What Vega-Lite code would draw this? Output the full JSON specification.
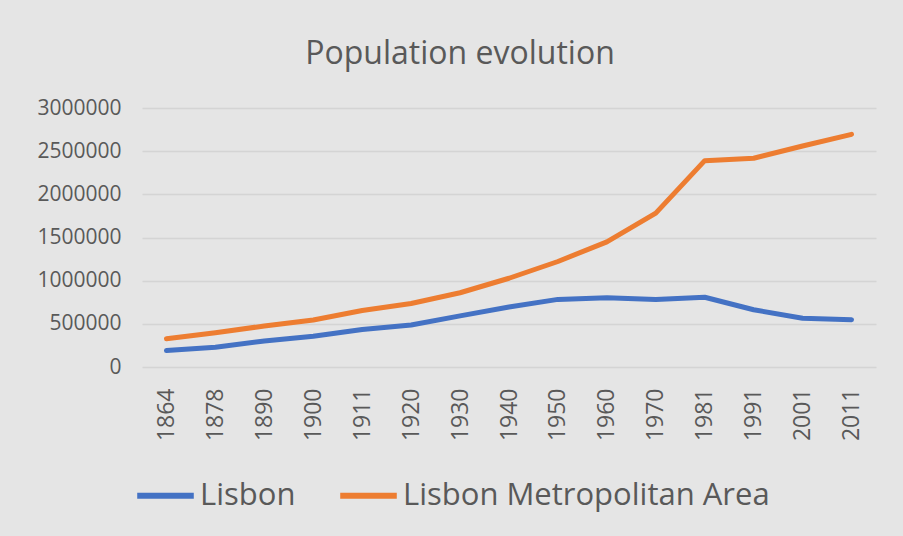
{
  "$schema": "https://vega.github.io/schema/vega-lite/v6.json",
  "autosize": {"type": "none"},
  "width": 734,
  "height": 259,
  "padding": {"left": 142, "top": 108, "right": 27, "bottom": 169},
  "background": "#e5e5e5",
  "title": {
    "text": "Population evolution",
    "font": "Open Sans",
    "fontSize": 32,
    "fontWeight": "normal",
    "color": "#595959",
    "anchor": "middle",
    "dx": -49,
    "offset": 26
  },
  "data": {
    "values": [
      {"year": "1864", "series": "Lisbon", "population": 190311},
      {"year": "1878", "series": "Lisbon", "population": 227674},
      {"year": "1890", "series": "Lisbon", "population": 301206},
      {"year": "1900", "series": "Lisbon", "population": 356009},
      {"year": "1911", "series": "Lisbon", "population": 435359},
      {"year": "1920", "series": "Lisbon", "population": 486372},
      {"year": "1930", "series": "Lisbon", "population": 591939},
      {"year": "1940", "series": "Lisbon", "population": 694389},
      {"year": "1950", "series": "Lisbon", "population": 783226},
      {"year": "1960", "series": "Lisbon", "population": 802230},
      {"year": "1970", "series": "Lisbon", "population": 782000},
      {"year": "1981", "series": "Lisbon", "population": 807937},
      {"year": "1991", "series": "Lisbon", "population": 663394},
      {"year": "2001", "series": "Lisbon", "population": 564657},
      {"year": "2011", "series": "Lisbon", "population": 547733},
      {"year": "1864", "series": "Lisbon Metropolitan Area", "population": 328000},
      {"year": "1878", "series": "Lisbon Metropolitan Area", "population": 397000},
      {"year": "1890", "series": "Lisbon Metropolitan Area", "population": 475000},
      {"year": "1900", "series": "Lisbon Metropolitan Area", "population": 545000},
      {"year": "1911", "series": "Lisbon Metropolitan Area", "population": 655000},
      {"year": "1920", "series": "Lisbon Metropolitan Area", "population": 735000},
      {"year": "1930", "series": "Lisbon Metropolitan Area", "population": 860000},
      {"year": "1940", "series": "Lisbon Metropolitan Area", "population": 1028000},
      {"year": "1950", "series": "Lisbon Metropolitan Area", "population": 1222000},
      {"year": "1960", "series": "Lisbon Metropolitan Area", "population": 1450000},
      {"year": "1970", "series": "Lisbon Metropolitan Area", "population": 1782000},
      {"year": "1981", "series": "Lisbon Metropolitan Area", "population": 2390000},
      {"year": "1991", "series": "Lisbon Metropolitan Area", "population": 2418000},
      {"year": "2001", "series": "Lisbon Metropolitan Area", "population": 2560000},
      {"year": "2011", "series": "Lisbon Metropolitan Area", "population": 2695000}
    ]
  },
  "mark": {"type": "line", "strokeWidth": 5, "strokeCap": "round", "strokeJoin": "round"},
  "encoding": {
    "x": {
      "field": "year",
      "type": "ordinal",
      "scale": {"type": "point", "padding": 0.5},
      "axis": {
        "title": null,
        "labelAngle": -90,
        "labelAlign": "right",
        "labelBaseline": "middle",
        "labelPadding": 21,
        "labelFont": "Open Sans",
        "labelFontSize": 23,
        "labelColor": "#595959",
        "ticks": false,
        "domain": false,
        "grid": false
      }
    },
    "y": {
      "field": "population",
      "type": "quantitative",
      "scale": {"domain": [0, 3000000], "nice": false},
      "axis": {
        "title": null,
        "values": [0, 500000, 1000000, 1500000, 2000000, 2500000, 3000000],
        "format": "d",
        "labelPadding": 21,
        "labelFont": "Open Sans",
        "labelFontSize": 21,
        "labelColor": "#595959",
        "ticks": false,
        "domain": false,
        "grid": true,
        "gridColor": "#d4d4d4",
        "gridWidth": 1.5
      }
    },
    "color": {
      "field": "series",
      "type": "nominal",
      "scale": {"domain": ["Lisbon", "Lisbon Metropolitan Area"], "range": ["#4472c4", "#ed7d31"]},
      "legend": {
        "title": null,
        "orient": "none",
        "legendX": -8,
        "legendY": 356,
        "direction": "horizontal",
        "symbolType": "stroke",
        "symbolSize": 3200,
        "symbolStrokeWidth": 6,
        "labelFont": "Open Sans",
        "labelFontSize": 31,
        "labelColor": "#595959",
        "labelLimit": 600,
        "labelOffset": 3,
        "columnPadding": 32
      }
    }
  },
  "config": {"view": {"stroke": null}}
}
